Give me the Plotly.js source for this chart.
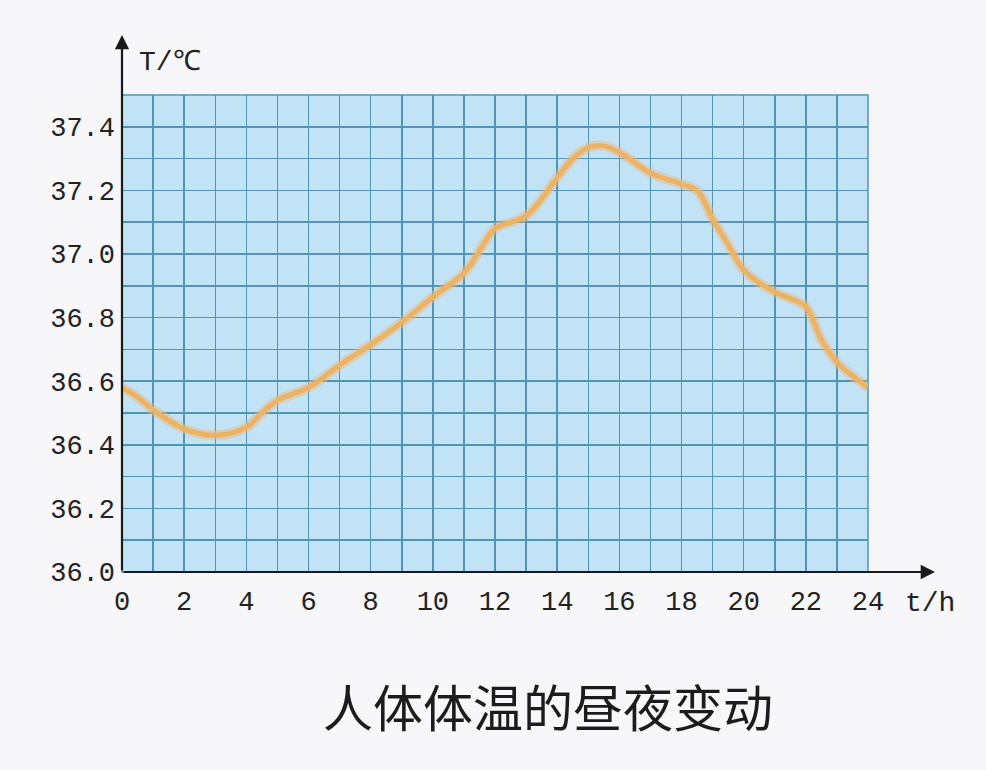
<!DOCTYPE html>
<html>
<head>
<meta charset="utf-8">
<script src="https://cdn.plot.ly/plotly-3.0.1.min.js"></script>
<style>
  html, body { margin: 0; padding: 0; background: #f7f7f9; }
  #chart { width: 986px; height: 770px; }
</style>
</head>
<body>
<div id="chart"></div>
<script>
// Hours of the day and body temperature (°C)
const hours = [0, 0.5, 1, 2, 3, 4, 4.5, 5, 6, 7, 8, 9, 10, 11, 11.5, 12, 13, 14, 14.5, 15, 15.5, 16, 17, 18, 18.5, 19, 19.5, 20, 21, 21.5, 22, 22.5, 23, 24];
const temps = [36.58, 36.55, 36.51, 36.45, 36.43, 36.455, 36.50, 36.54, 36.58, 36.65, 36.715, 36.785, 36.865, 36.94, 37.01, 37.08, 37.12, 37.24, 37.30, 37.335, 37.34, 37.32, 37.255, 37.22, 37.20, 37.11, 37.03, 36.95, 36.88, 36.86, 36.835, 36.73, 36.66, 36.58];

const xTickVals = [0, 2, 4, 6, 8, 10, 12, 14, 16, 18, 20, 22, 24];
const xTickText = ['0', '2', '4', '6', '8', '10', '12', '14', '16', '18', '20', '22', '24'];
const yTickVals = [36.0, 36.2, 36.4, 36.6, 36.8, 37.0, 37.2, 37.4];
const yTickText = ['36.0', '36.2', '36.4', '36.6', '36.8', '37.0', '37.2', '37.4'];

const chartTitle = '人体体温的昼夜变动';
const yLabel = 'T/℃';
const xLabel = 't/h';

const gridColor = '#4f95b8';
const tickFont = { family: 'Liberation Mono, DejaVu Sans Mono, monospace', size: 27, color: '#222' };

const traces = [
  {
    x: hours, y: temps, type: 'scatter', mode: 'lines',
    line: { shape: 'spline', smoothing: 1, width: 10, color: 'rgba(240,185,125,0.45)' },
    hoverinfo: 'skip', showlegend: false
  },
  {
    x: hours, y: temps, type: 'scatter', mode: 'lines',
    line: { shape: 'spline', smoothing: 1, width: 5, color: '#ecb363' },
    showlegend: false
  }
];

const layout = {
  width: 986, height: 770,
  margin: { l: 122, r: 118, t: 95, b: 198 },
  paper_bgcolor: '#f7f7f9',
  plot_bgcolor: '#c2e2f6',
  showlegend: false,
  title: {
    text: chartTitle,
    font: { family: 'Noto Sans CJK SC', size: 50, color: '#1c1c1c' },
    x: 548 / 986, xref: 'container', xanchor: 'center',
    y: 1 - 709 / 770, yref: 'container', yanchor: 'middle'
  },
  xaxis: {
    range: [0, 24], tickvals: xTickVals, ticktext: xTickText,
    showgrid: true, gridcolor: gridColor, gridwidth: 1.5,
    minor: { dtick: 1, tick0: 0, showgrid: true, gridcolor: gridColor, gridwidth: 1.5, ticks: '' },
    zeroline: false, showline: false, ticks: '',
    tickfont: tickFont, ticklabelstandoff: 10, fixedrange: true
  },
  yaxis: {
    range: [36, 37.5], tickvals: yTickVals, ticktext: yTickText,
    showgrid: true, gridcolor: gridColor, gridwidth: 1.5,
    minor: { dtick: 0.1, tick0: 36, showgrid: true, gridcolor: gridColor, gridwidth: 1.5, ticks: '' },
    zeroline: false, showline: false, ticks: '',
    tickfont: tickFont, ticklabelstandoff: 6, fixedrange: true
  },
  shapes: [
    { type: 'rect', xref: 'paper', yref: 'paper', x0: 0, x1: 1, y0: 0, y1: 1,
      line: { color: gridColor, width: 1.5 }, fillcolor: 'rgba(0,0,0,0)', layer: 'below' }
  ],
  annotations: [
    { xref: 'paper', yref: 'paper', x: 0, y: (572 - 35) / 477, ax: 0, ay: 537,
      axref: 'pixel', ayref: 'pixel', text: '', showarrow: true,
      arrowhead: 2, arrowsize: 1.3, arrowwidth: 2.2, arrowcolor: '#1a1a1a', standoff: 0, startstandoff: 0 },
    { xref: 'paper', yref: 'paper', x: (935 - 122) / 746, y: 0, ax: -813, ay: 0,
      axref: 'pixel', ayref: 'pixel', text: '', showarrow: true,
      arrowhead: 2, arrowsize: 1.3, arrowwidth: 2.2, arrowcolor: '#1a1a1a', standoff: 0, startstandoff: 0 },
    { xref: 'paper', yref: 'paper', x: (170 - 122) / 746, y: (572 - 62) / 477,
      xanchor: 'center', yanchor: 'middle', showarrow: false, text: yLabel,
      font: { family: 'Liberation Mono, DejaVu Sans Mono, monospace', size: 28, color: '#222' } },
    { xref: 'paper', yref: 'paper', x: (930 - 122) / 746, y: (572 - 603) / 477,
      xanchor: 'center', yanchor: 'middle', showarrow: false, text: xLabel,
      font: { family: 'Liberation Mono, DejaVu Sans Mono, monospace', size: 28, color: '#222' } }
  ]
};

Plotly.newPlot('chart', traces, layout, { displayModeBar: false, staticPlot: true });
</script>
</body>
</html>
